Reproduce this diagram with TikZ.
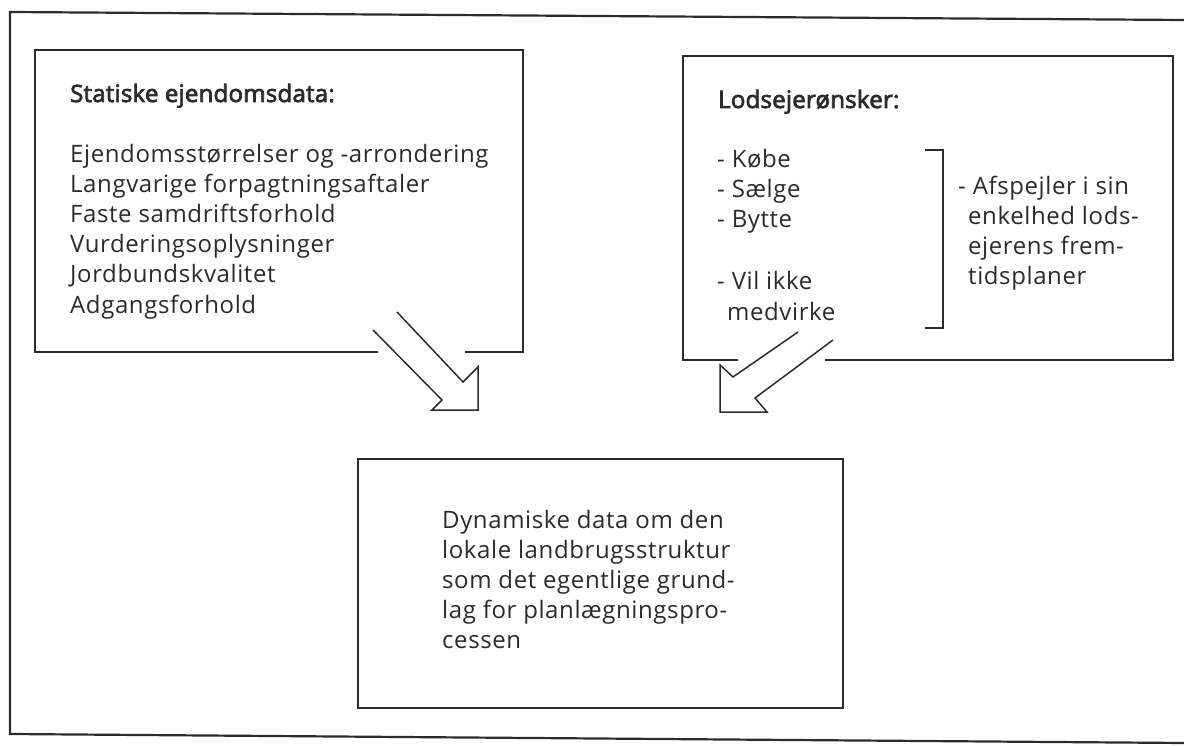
\documentclass[tikz,border=0pt]{standalone}
\usepackage{fontspec}
\setmainfont{Open Sans}[LetterSpace=2.5]
\newfontfamily\headfont{Open Sans}[LetterSpace=1,FakeBold=3]
\usetikzlibrary{positioning}
\definecolor{ink}{HTML}{2B2B2B}
\tikzset{
  frame/.style={draw=ink,line width=1.7pt},
  box/.style={rectangle,inner sep=0pt,outer sep=0pt},
  txt/.style={inner sep=0pt,anchor=base west,text=ink,font=\fontsize{24}{30}\selectfont},
  head/.style={txt,font=\fontsize{24}{30}\headfont},
  blockarrow/.style={draw=ink,line width=1.5pt,line join=miter}
}
\begin{document}
\begin{tikzpicture}[x=1pt,y=-1pt]
  \useasboundingbox (0,0) rectangle (1184,746);
  % outer frame, right side runs off the page
  \draw[frame,line width=2.2pt] (1184,20) -- (10,12) -- (10,734) -- (1184,743);

  % boxes
  \path (279,201) node[box,minimum width=488pt,minimum height=302pt] (stat) {};
  \path (928,208) node[box,minimum width=490pt,minimum height=304pt] (onsk) {};
  \path (600.5,583.5) node[box,minimum width=485pt,minimum height=249pt] (dyn) {};

  \coordinate (statgapL) at (378,352);
  \coordinate (statgapR) at (465,352);
  \coordinate (onskgapL) at (738,360);
  \coordinate (onskgapR) at (825,360);

  \draw[frame] (statgapL) -| (stat.north west) -| (stat.south east) -- (statgapR);
  \draw[frame] (onskgapL) -| (onsk.north west) -| (onsk.south east) -- (onskgapR);
  \draw[frame] (dyn.south west) rectangle (dyn.north east);

  % static property data
  \path (70,102) node[head] (stattitle) {Statiske ejendomsdata:};
  \path (70,163) node[txt] (s1) {Ejendomsstørrelser og -arrondering};
  \path (70,193) node[txt] (s2) {Langvarige forpagtningsaftaler};
  \path (70,223) node[txt] (s3) {Faste samdriftsforhold};
  \path (70,253) node[txt] (s4) {Vurderingsoplysninger};
  \path (70,283) node[txt] (s5) {Jordbundskvalitet};
  \path (70,313) node[txt] (s6) {Adgangsforhold};

  % landowner wishes
  \path (718,108) node[head] (onsktitle) {Lodsejerønsker:};
  \path (717,168) node[txt] (w1) {- Købe};
  \path (717,198) node[txt] (w2) {- Sælge};
  \path (717,228) node[txt] (w3) {- Bytte};
  \path (717,290) node[txt] (w4) {- Vil ikke};
  \path (727,320) node[txt] (w5) {medvirke};

  \draw[frame,line width=1.5pt] (925,150) -- (943,150) -- (943,328) -- (925,328);

  \path (958,195) node[txt] (r1) {- Afspejler i sin};
  \path (968,225) node[txt] (r2) {enkelhed lods-};
  \path (968,255) node[txt] (r3) {ejerens frem-};
  \path (968,285) node[txt] (r4) {tidsplaner};

  % dynamic data
  \path (442,528) node[txt] (d1) {Dynamiske data om den};
  \path (442,558) node[txt] (d2) {lokale landbrugsstruktur};
  \path (442,588) node[txt] (d3) {som det egentlige grund-};
  \path (442,618) node[txt] (d4) {lag for planlægningspro-};
  \path (442,648) node[txt] (d5) {cessen};

  % hollow arrows into the lower box
  \coordinate (tipL) at (478,410);
  \coordinate (tipR) at (720,412);
  \draw[blockarrow] (373,330) -- (442,400) -- (432,410) -- (tipL) -- (478,367) -- (463,382) -- (397,312);
  \draw[blockarrow] (798,332) -- (733,377) -- (720,365) -- (tipR) -- (767,412) -- (755,398) -- (833,340);
\end{tikzpicture}
\end{document}
